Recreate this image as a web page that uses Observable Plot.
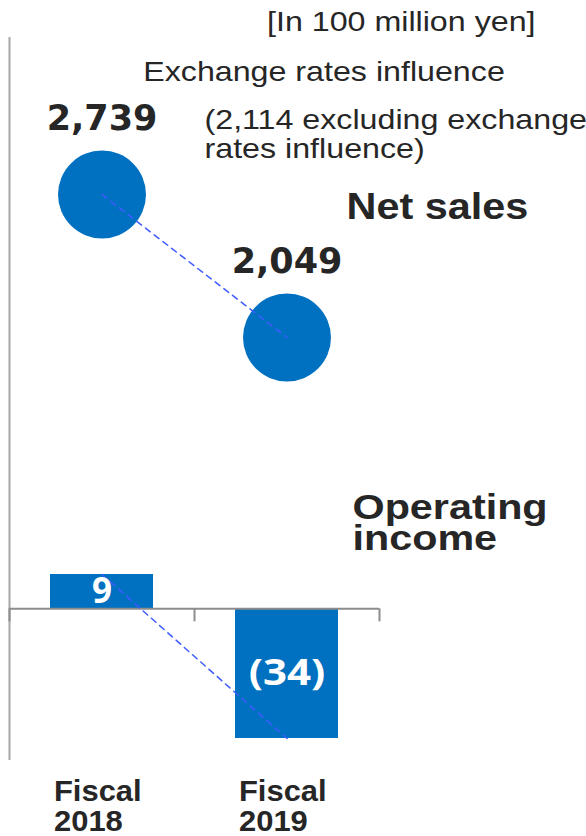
<!DOCTYPE html>
<html><head><meta charset="utf-8">
<script src="https://cdn.jsdelivr.net/npm/d3@7"></script>
<script src="https://cdn.jsdelivr.net/npm/@observablehq/plot@0.6"></script>
<style>
body{margin:0;background:#fff;}
#chart svg{display:block;}
</style></head><body><div id="chart"></div>
<script>
// ---- data ----
const years = ["Fiscal\n2018", "Fiscal\n2019"];
const netSales = [2739, 2049];
const netSalesExFx = [2114, null];
const operatingIncome = [9, -34];
const categoryTicks = [0, 1, 2];
const unitLabel = "[In 100 million yen]";
const fxNote = "Exchange rates influence";
const salesLabel = "Net sales";
const incomeLabel = "Operating\nincome";

const fmt = d3.format(",");
const fmtIncome = v => v < 0 ? `(${fmt(-v)})` : fmt(v);
const data = years.map((year, i) => ({i, year, sales: netSales[i], exFx: netSalesExFx[i], income: operatingIncome[i]}));
const fxData = data.filter(d => d.exFx != null);

// ---- styles ----
const BLUE = "#0070c0", DASH = "#3d5cff", VGRAY = "#a6a6a6", BGRAY = "#8c8c8c", INK = "#262626";
const SANS = "Liberation Sans, Arial, sans-serif";
const W = 586;
const xScale = {type: "linear", domain: [0, 2], range: [9, 379], axis: null};
const cx = d => d.i + 0.5;

const topPlot = Plot.plot({
  width: W, height: 440, marginLeft: 9, marginRight: 0, marginTop: 37, marginBottom: 0,
  style: {background: "white", overflow: "visible"},
  x: xScale,
  y: {domain: [2049, 2739], range: [337, 194], axis: null},
  marks: [
    Plot.ruleX([0], {stroke: VGRAY, strokeWidth: 2}),
    Plot.dot(data, {x: cx, y: "sales", r: 44, fill: BLUE}),
    Plot.line(data, {x: cx, y: "sales", stroke: DASH, strokeWidth: 1.5, strokeDasharray: "6,5"}),
    Plot.text(data, {x: cx, y: "sales", text: d => fmt(d.sales), fontFamily: "DejaVu Sans", fontWeight: "bold", fontSize: 35, fill: INK, lineAnchor: "bottom", dy: -65}),
    Plot.text(fxData, {x: cx, y: "sales", text: () => fxNote, textAnchor: "middle", fontFamily: SANS, fontSize: 28, fill: INK, lineAnchor: "bottom", dx: 222, dy: -114}),
    Plot.text(fxData, {x: cx, y: "sales", text: d => `(${fmt(d.exFx)} excluding exchange\nrates influence)`, textAnchor: "start", fontFamily: SANS, fontSize: 28, lineHeight: 29 / 28, fill: INK, lineAnchor: "bottom", dx: 102.5, dy: -37}),
    Plot.text([unitLabel], {frameAnchor: "top-right", text: d => d, textAnchor: "end", fontFamily: SANS, fontSize: 28, fill: INK, lineAnchor: "bottom", dx: -51, dy: -7}),
    Plot.text([salesLabel], {frameAnchor: "top-left", text: d => d, textAnchor: "start", fontFamily: SANS, fontWeight: "bold", fontSize: 36, fill: INK, lineAnchor: "bottom", dx: 337, dy: 181})
  ]
});

const bottomPlot = Plot.plot({
  width: W, height: 396, marginLeft: 9, marginRight: 0, marginTop: 0, marginBottom: 76,
  style: {background: "white", overflow: "visible"},
  x: xScale,
  y: {domain: [-34, 9], range: [298, 134], axis: null},
  marks: [
    Plot.ruleX([0], {stroke: VGRAY, strokeWidth: 2}),
    Plot.rect(data, {x1: d => d.i, x2: d => d.i + 1, y1: 0, y2: "income", insetLeft: 41, insetRight: 41, fill: BLUE}),
    Plot.ruleY([0], {x1: 0, x2: 2, stroke: BGRAY, strokeWidth: 2}),
    Plot.ruleX(categoryTicks, {x: d => d, y1: 0, y2: 0, insetBottom: -13, stroke: BGRAY, strokeWidth: 2}),
    Plot.line(data, {x: cx, y: "income", stroke: DASH, strokeWidth: 1.5, strokeDasharray: "6,5"}),
    Plot.text(data, {x: cx, y: d => d.income / 2, text: d => fmtIncome(d.income), fill: "white", fontFamily: "Open Sans", fontWeight: "bold", fontSize: 35}),
    Plot.text(data, {x: cx, frameAnchor: "bottom", text: "year", textAnchor: "start", fontFamily: SANS, fontWeight: "bold", fontSize: 30, lineHeight: 1, fill: INK, lineAnchor: "bottom", dx: -48, dy: 70}),
    Plot.text([incomeLabel], {frameAnchor: "top-left", text: d => d, textAnchor: "start", fontFamily: SANS, fontWeight: "bold", fontSize: 35, lineHeight: 31 / 35, fill: INK, lineAnchor: "bottom", dx: 343, dy: 109})
  ]
});

const chart = document.getElementById("chart");
chart.append(topPlot, bottomPlot);

// Horizontally widen texts to the proportions seen in the reference
const stretchOf = s => /^(Fiscal|20\d\d)$/.test(s) ? 1.03 : /^\(\d+\)$/.test(s) ? 1.2 : /^(Operating|income)$/.test(s) ? 1.18 : 1.15;
for (const svg of [topPlot, bottomPlot]) {
  svg.querySelectorAll("text").forEach(t => {
    const fam = getComputedStyle(t).fontFamily;
    const spans = t.querySelectorAll("tspan");
    const els = spans.length ? [...spans] : [t];
    els.forEach(el => {
      const s = el.textContent;
      const isSans = /Liberation/.test(fam);
      const isParen = /^\(\d+\)$/.test(s);
      if (!isSans && !isParen) return;
      const w = el.getComputedTextLength();
      el.setAttribute("textLength", (w * stretchOf(s)).toFixed(1));
      el.setAttribute("lengthAdjust", "spacingAndGlyphs");
    });
  });
}
</script></body></html>
